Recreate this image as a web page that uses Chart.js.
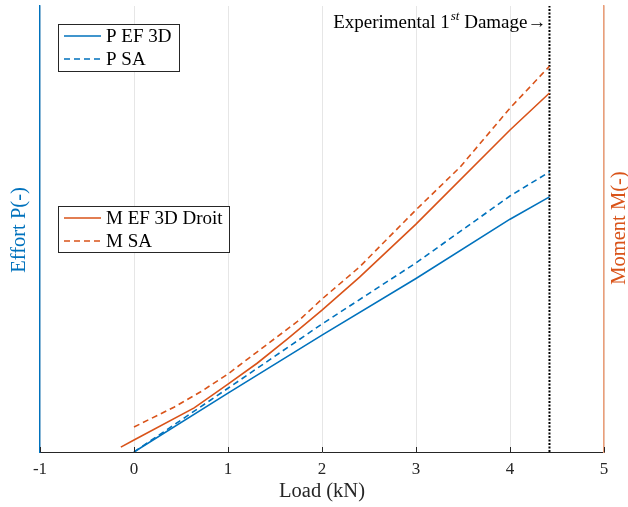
<!DOCTYPE html>
<html>
<head>
<meta charset="utf-8">
<script src="https://cdn.jsdelivr.net/npm/chart.js@4.4.1/dist/chart.umd.min.js"></script>
<style>
  html, body { margin: 0; padding: 0; background: #fff; }
  #wrap { width: 628px; height: 507px; }
</style>
</head>
<body>
<div id="wrap"><canvas id="grafico" width="628" height="507"></canvas></div>
<script>
// values (P and M are unitless, axis 0..100)
var loadP = [0, 1, 2, 3, 4, 4.42];
var pEF3D = [0, 13.2, 26.2, 38.9, 52.2, 57.2];
var pSA = [0, 14.3, 28.7, 42.4, 57.4, 62.8];

var loadM = [-0.14, 0, 0.64, 1, 1.31, 1.63, 2, 2.4, 3, 4, 4.42];
var mEF3D = [1.1, 2.7, 9.9, 15.2, 19.9, 25.3, 31.8, 39.2, 51.1, 72.2, 80.5];

var loadMSA = [0, 0.43, 0.71, 1, 1.42, 1.76, 2, 2.4, 3, 3.47, 4, 4.42];
var mSA = [5.6, 10.1, 13.5, 17.5, 24.2, 29.6, 34.3, 41.5, 54.3, 63.9, 77.1, 86.5];

var damageLoad = 4.42;
var xTicks = [-1, 0, 1, 2, 3, 4, 5];

var bleu = '#0072BD';
var orange = '#D95319';
var police = '"Liberation Serif", "DejaVu Serif", serif';

function points(xs, ys) {
    var out = [];
    for (var i = 0; i < xs.length; i++) out.push({x: xs[i], y: ys[i]});
    return out;
}

var datos = {
    datasets: [
        { label: 'P EF 3D', data: points(loadP, pEF3D), borderColor: bleu, borderWidth: 1.6 },
        { label: 'P SA', data: points(loadP, pSA), borderColor: bleu, borderWidth: 1.6, borderDash: [6, 4] },
        { label: 'M EF 3D Droit', data: points(loadM, mEF3D), borderColor: orange, borderWidth: 1.6 },
        { label: 'M SA', data: points(loadMSA, mSA), borderColor: orange, borderWidth: 1.6, borderDash: [6, 4] },
        { label: 'damage', data: points([damageLoad, damageLoad], [0, 100]), borderColor: '#000', borderWidth: 2, borderDash: [2, 1.5] }
    ]
};

function drawLegend(ctx, x, y, w, h, items) {
    ctx.save();
    ctx.fillStyle = '#fff';
    ctx.fillRect(x, y, w, h);
    ctx.strokeStyle = '#262626';
    ctx.lineWidth = 1;
    ctx.strokeRect(x + 0.5, y + 0.5, w, h);
    ctx.font = '19px ' + police;
    ctx.textBaseline = 'middle';
    items.forEach(function (it, i) {
        var yy = y + 12 + i * 23;
        ctx.strokeStyle = it.color;
        ctx.lineWidth = 1.6;
        ctx.setLineDash(it.dash || []);
        ctx.beginPath();
        ctx.moveTo(x + 6, yy);
        ctx.lineTo(x + 43, yy);
        ctx.stroke();
        ctx.setLineDash([]);
        ctx.fillStyle = '#000';
        ctx.fillText(it.text, x + 48, yy + 1);
    });
    ctx.restore();
}

var decor = {
    id: 'decor',
    afterDraw: function (chart) {
        var ctx = chart.ctx;
        var a = chart.chartArea;
        var sx = chart.scales.x;

        // inward ticks on x axis
        ctx.save();
        ctx.strokeStyle = '#262626';
        ctx.lineWidth = 1;
        xTicks.forEach(function (t) {
            var px = Math.round(sx.getPixelForValue(t)) + 0.5;
            ctx.beginPath();
            ctx.moveTo(px, a.bottom);
            ctx.lineTo(px, a.bottom - 5);
            ctx.stroke();
        });

        // axis titles
        ctx.font = '20.5px ' + police;
        ctx.textAlign = 'center';
        ctx.textBaseline = 'middle';
        ctx.fillStyle = '#262626';
        ctx.fillText('Load (kN)', (a.left + a.right) / 2, 492);

        ctx.save();
        ctx.translate(20, 230);
        ctx.rotate(-Math.PI / 2);
        ctx.fillStyle = bleu;
        ctx.fillText('Effort P(-)', 0, 0);
        ctx.restore();

        ctx.save();
        ctx.translate(620, 228);
        ctx.rotate(-Math.PI / 2);
        ctx.fillStyle = orange;
        ctx.fillText('Moment M(-)', 0, 0);
        ctx.restore();

        // annotation left of damage line
        var dx = sx.getPixelForValue(damageLoad);
        ctx.fillStyle = '#000';
        ctx.textAlign = 'left';
        ctx.textBaseline = 'alphabetic';
        var part1 = 'Experimental 1';
        var sup = 'st';
        var part2 = ' Damage\u2192';
        ctx.font = '19px ' + police;
        var w1 = ctx.measureText(part1).width;
        var w3 = ctx.measureText(part2).width;
        ctx.font = 'italic 13px ' + police;
        var w2 = ctx.measureText(sup).width;
        var x0 = dx - 4 - w1 - w2 - w3;
        ctx.font = '19px ' + police;
        ctx.fillText(part1, x0, 28);
        ctx.font = 'italic 13px ' + police;
        ctx.fillText(sup, x0 + w1 + 1, 20);
        ctx.font = '19px ' + police;
        ctx.fillText(part2, x0 + w1 + w2 + 1, 28);
        ctx.restore();

        drawLegend(ctx, a.left + 18, 24, 121, 47, [
            { text: 'P EF 3D', color: bleu },
            { text: 'P SA', color: bleu, dash: [6, 4] }
        ]);
        drawLegend(ctx, a.left + 18, 206, 171, 46, [
            { text: 'M EF 3D Droit', color: orange },
            { text: 'M SA', color: orange, dash: [6, 4] }
        ]);
    }
};

var opciones = {
    responsive: false,
    animation: false,
    layout: { padding: { top: 6, left: 0, right: 0, bottom: 0 } },
    elements: { point: { radius: 0 }, line: { tension: 0, fill: false } },
    plugins: { legend: { display: false }, tooltip: { enabled: false } },
    scales: {
        x: {
            type: 'linear',
            min: -1,
            max: 5,
            afterFit: function (s) { s.height = 55; },
            afterBuildTicks: function (s) { s.ticks = xTicks.map(function (v) { return { value: v }; }); },
            grid: { color: '#e6e6e6', drawTicks: false },
            border: { color: '#262626', width: 1 },
            ticks: {
                padding: 7,
                color: '#262626',
                font: { family: police, size: 17 },
                callback: function (v) { return v < 0 ? '-' + Math.abs(v) : String(v); }
            }
        },
        y: {
            position: 'left',
            min: 0,
            max: 100,
            afterFit: function (s) { s.width = 40; },
            grid: { display: false },
            border: { color: bleu, width: 1.4 },
            ticks: { display: false }
        },
        y2: {
            position: 'right',
            min: 0,
            max: 100,
            afterFit: function (s) { s.width = 24; },
            grid: { display: false },
            border: { color: '#EC9E78', width: 1.5 },
            ticks: { display: false }
        }
    }
};

var ctx = document.getElementById('grafico');
var grafico = new Chart(ctx, {
    type: 'line',
    data: datos,
    options: opciones,
    plugins: [decor]
});
</script>
</body>
</html>
